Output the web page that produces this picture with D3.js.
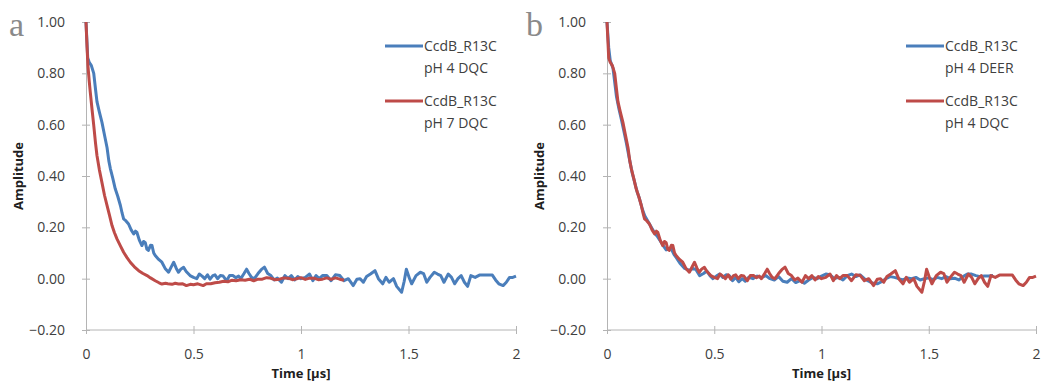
<!DOCTYPE html>
<html>
<head>
<meta charset="utf-8">
<script src="https://cdn.jsdelivr.net/npm/d3@7"></script>
<style>
  body { margin: 0; background: #fff; }
  svg { display: block; }
  .tick text { font-family: "Open Sans", sans-serif; font-size: 14px; fill: #404040; }
  .axis path, .axis line { stroke: #b4b4b4; }
  .lbl { font-family: "Open Sans", sans-serif; font-size: 13px; font-weight: bold; fill: #202020; }
  .leg { font-family: "Open Sans", sans-serif; font-size: 14px; fill: #404040; }
  .panel { font-family: "Liberation Serif", "DejaVu Serif", serif; font-size: 34px; fill: #8a8a8a; }
</style>
</head>
<body>
<div id="chart"></div>
<script>
// tick values
var yTicks = [-0.2, 0, 0.2, 0.4, 0.6, 0.8, 1.0];
var xTicks = [0, 0.5, 1, 1.5, 2];

// CcdB_R13C pH 4 DQC  [time (us), amplitude]
var ph4Dqc = [[0,1.00],[0.008,0.86],[0.015,0.843],[0.025,0.83],[0.036,0.80],[0.044,0.74],[0.051,0.69],[0.062,0.65],
  [0.074,0.61],[0.086,0.56],[0.098,0.51],[0.106,0.46],[0.113,0.43],[0.125,0.39],[0.136,0.35],[0.148,0.32],[0.16,0.285],
  [0.168,0.255],[0.175,0.233],[0.186,0.225],[0.198,0.213],[0.21,0.19],[0.222,0.174],[0.23,0.185],[0.237,0.18],[0.248,0.15],
  [0.26,0.129],[0.268,0.145],[0.276,0.14],[0.283,0.115],[0.29,0.11],[0.3,0.13],[0.307,0.129],[0.315,0.1],[0.322,0.09],
  [0.338,0.075],[0.353,0.064],[0.368,0.04],[0.384,0.025],[0.396,0.045],[0.408,0.064],[0.42,0.04],[0.43,0.025],[0.442,0.038],
  [0.454,0.044],[0.466,0.028],[0.484,0.012],[0.5,0.005],[0.515,0.0],[0.527,0.018],[0.54,0.01],[0.552,0.0],[0.565,0.015],
  [0.577,-0.002],[0.59,0.012],[0.6,0.015],[0.612,0.0],[0.625,0.012],[0.638,0.01],[0.654,-0.008],[0.668,0.012],[0.683,0.012],
  [0.697,0.004],[0.71,0.01],[0.72,0.0],[0.735,0.02],[0.747,0.037],[0.758,0.02],[0.77,0.005],[0.783,0.0],[0.8,0.02],
  [0.815,0.035],[0.83,0.045],[0.845,0.02],[0.86,0.012],[0.875,-0.005],[0.89,0.002],[0.909,-0.014],[0.925,0.012],[0.94,0.0],
  [0.955,0.012],[0.97,-0.005],[0.985,0.008],[1.0,0.0],[1.02,0.005],[1.04,0.018],[1.055,-0.008],[1.07,0.012],[1.085,0.0],
  [1.1,0.012],[1.12,0.012],[1.14,-0.008],[1.16,0.015],[1.181,0.012],[1.2,-0.008],[1.22,0.0],[1.243,-0.027],[1.26,-0.002],
  [1.275,0.0],[1.29,-0.014],[1.305,0.008],[1.323,0.018],[1.344,0.031],[1.36,0.0],[1.38,-0.02],[1.395,0.005],[1.41,-0.014],
  [1.43,0.0],[1.445,-0.03],[1.468,-0.053],[1.48,-0.01],[1.49,0.037],[1.505,0.0],[1.515,-0.02],[1.535,0.012],[1.555,0.025],
  [1.57,0.02],[1.585,-0.014],[1.6,0.005],[1.62,0.025],[1.635,0.018],[1.65,0.012],[1.665,-0.014],[1.685,0.018],[1.7,0.005],
  [1.715,-0.02],[1.73,0.0],[1.745,0.012],[1.76,-0.014],[1.775,-0.03],[1.79,0.012],[1.81,0.005],[1.83,0.014],[1.85,0.014],
  [1.87,0.014],[1.89,0.014],[1.905,-0.005],[1.92,-0.02],[1.94,-0.027],[1.955,-0.014],[1.97,0.005],[1.985,0.005],[2.0,0.01]];

// CcdB_R13C pH 7 DQC
var ph7Dqc = [[0,1.0],[0.005,0.9],[0.009,0.83],[0.015,0.77],[0.02,0.726],[0.028,0.66],[0.036,0.597],[0.044,0.53],
  [0.051,0.48],[0.062,0.425],[0.074,0.375],[0.086,0.325],[0.098,0.285],[0.11,0.245],[0.121,0.207],[0.132,0.18],[0.144,0.155],
  [0.16,0.128],[0.175,0.103],[0.19,0.083],[0.206,0.064],[0.225,0.046],[0.245,0.031],[0.265,0.02],[0.284,0.012],[0.3,0.003],
  [0.322,-0.008],[0.34,-0.016],[0.353,-0.021],[0.37,-0.018],[0.38,-0.02],[0.4,-0.022],[0.415,-0.018],[0.43,-0.021],
  [0.45,-0.02],[0.467,-0.027],[0.485,-0.022],[0.5,-0.024],[0.52,-0.02],[0.545,-0.027],[0.56,-0.02],[0.58,-0.02],
  [0.6,-0.016],[0.62,-0.014],[0.64,-0.01],[0.66,-0.012],[0.68,-0.006],[0.698,-0.008],[0.72,-0.004],[0.74,-0.006],
  [0.76,-0.002],[0.78,-0.008],[0.8,-0.002],[0.82,-0.002],[0.84,0.004],[0.853,0.003],[0.88,-0.004],[0.9,-0.002],[0.92,0.003],
  [0.94,0.002],[0.96,-0.004],[0.98,0.0],[1.0,0.004],[1.02,-0.003],[1.04,0.002],[1.06,0.002],[1.08,-0.004],[1.1,-0.002],
  [1.12,0.003],[1.14,-0.003],[1.16,0.003],[1.18,-0.002],[1.19,-0.004],[1.2,-0.006]];

// CcdB_R13C pH 4 DEER
var ph4Deer = [[0,1.0],[0.008,0.9],[0.015,0.85],[0.028,0.82],[0.044,0.71],[0.056,0.66],[0.067,0.62],[0.08,0.57],[0.09,0.53],
  [0.106,0.46],[0.118,0.41],[0.129,0.375],[0.14,0.34],[0.152,0.31],[0.165,0.27],[0.176,0.245],[0.19,0.225],[0.2,0.21],
  [0.214,0.19],[0.225,0.175],[0.237,0.162],[0.25,0.145],[0.261,0.13],[0.276,0.112],[0.29,0.115],[0.3,0.115],[0.312,0.095],
  [0.323,0.082],[0.34,0.06],[0.362,0.04],[0.385,0.032],[0.4,0.04],[0.415,0.035],[0.432,0.012],[0.45,0.02],[0.465,0.03],
  [0.48,0.012],[0.494,0.0],[0.51,0.01],[0.525,0.018],[0.54,0.005],[0.555,0.015],[0.57,0.012],[0.585,-0.008],[0.6,0.005],
  [0.615,-0.012],[0.63,0.0],[0.645,-0.01],[0.66,0.005],[0.68,0.0],[0.7,0.01],[0.72,0.004],[0.74,0.012],[0.76,0.0],
  [0.78,-0.005],[0.8,0.008],[0.82,-0.01],[0.84,-0.014],[0.86,0.0],[0.88,-0.015],[0.9,-0.008],[0.92,-0.018],[0.94,-0.005],
  [0.96,0.005],[0.98,0.0],[1.0,0.01],[1.02,0.018],[1.04,0.015],[1.06,0.0],[1.08,0.005],[1.1,-0.005],[1.12,0.012],
  [1.14,0.018],[1.16,0.008],[1.18,0.015],[1.2,0.0],[1.22,-0.01],[1.24,-0.018],[1.26,-0.02],[1.28,-0.012],[1.3,0.0],
  [1.32,0.008],[1.34,0.005],[1.36,0.0],[1.38,-0.005],[1.4,0.003],[1.42,0.0],[1.44,0.005],[1.46,-0.005],[1.48,0.0],
  [1.5,0.003],[1.52,-0.004],[1.54,0.005],[1.56,0.0],[1.58,0.008],[1.6,0.0],[1.62,0.002],[1.64,-0.005],[1.66,0.008],
  [1.68,0.018],[1.7,0.018],[1.72,0.012],[1.74,0.008],[1.76,0.01],[1.78,0.01],[1.8,0.012]];

var blue = "#4a7ebb", red = "#be4b48";

var panels = [
  { letter: "a", letterX: 9, left: 86, right: 516, legX: 385,
    series: [ { data: ph4Dqc, color: blue, name: ["CcdB_R13C", "pH 4 DQC"] },
              { data: ph7Dqc, color: red,  name: ["CcdB_R13C", "pH 7 DQC"] } ] },
  { letter: "b", letterX: 526, left: 607, right: 1036, legX: 906,
    series: [ { data: ph4Deer, color: blue, name: ["CcdB_R13C", "pH 4 DEER"] },
              { data: ph4Dqc,  color: red,  name: ["CcdB_R13C", "pH 4 DQC"] } ] }
];

var svg = d3.select("#chart").append("svg")
  .attr("width", 1041)
  .attr("height", 384);

var plotTop = 22, plotBottom = 330;

panels.forEach(function(p) {
  var x = d3.scaleLinear().domain([0, 2]).range([p.left, p.right]);
  var y = d3.scaleLinear().domain([-0.2, 1.0]).range([plotBottom, plotTop]);

  // y axis, ticks crossing the line
  var gy = svg.append("g")
    .attr("class", "axis")
    .attr("transform", `translate(${p.left},0)`)
    .call(d3.axisLeft(y).tickValues(yTicks).tickFormat(d3.format(".2f")).tickSizeOuter(0).tickPadding(15));
  gy.selectAll(".tick line").attr("x1", -4).attr("x2", 4);

  // x axis at bottom
  var gx = svg.append("g")
    .attr("class", "axis")
    .attr("transform", `translate(0,${plotBottom})`)
    .call(d3.axisBottom(x).tickValues(xTicks).tickFormat(d => d).tickSizeOuter(0).tickPadding(13));
  gx.selectAll(".tick line").attr("y1", -4).attr("y2", 4);
  gx.select(".domain").attr("d", `M${p.left},0H${p.right}`);

  var line = d3.line()
    .x(d => x(d[0]))
    .y(d => y(d[1]));

  p.series.forEach(function(s) {
    svg.append("path")
      .datum(s.data)
      .attr("fill", "none")
      .attr("stroke", s.color)
      .attr("stroke-width", 3)
      .attr("stroke-linejoin", "round")
      .attr("d", line);
  });

  // legend
  p.series.forEach(function(s, i) {
    var ly = 46 + i * 55;
    svg.append("line")
      .attr("x1", p.legX).attr("x2", p.legX + 38)
      .attr("y1", ly).attr("y2", ly)
      .attr("stroke", s.color)
      .attr("stroke-width", 3);
    svg.append("text")
      .attr("class", "leg")
      .attr("x", p.legX + 39)
      .attr("y", ly + 5)
      .text(s.name[0]);
    svg.append("text")
      .attr("class", "leg")
      .attr("x", p.legX + 39)
      .attr("y", ly + 27)
      .text(s.name[1]);
  });

  // axis titles
  svg.append("text")
    .attr("class", "lbl")
    .attr("transform", `translate(${p.left - 63},${(plotTop + plotBottom) / 2}) rotate(-90)`)
    .attr("text-anchor", "middle")
    .text("Amplitude");

  svg.append("text")
    .attr("class", "lbl")
    .attr("x", (p.left + p.right) / 2)
    .attr("y", 378)
    .attr("text-anchor", "middle")
    .text("Time [\u00b5s]");

  svg.append("text")
    .attr("class", "panel")
    .attr("x", p.letterX)
    .attr("y", 36)
    .text(p.letter);
});
</script>
</body>
</html>
